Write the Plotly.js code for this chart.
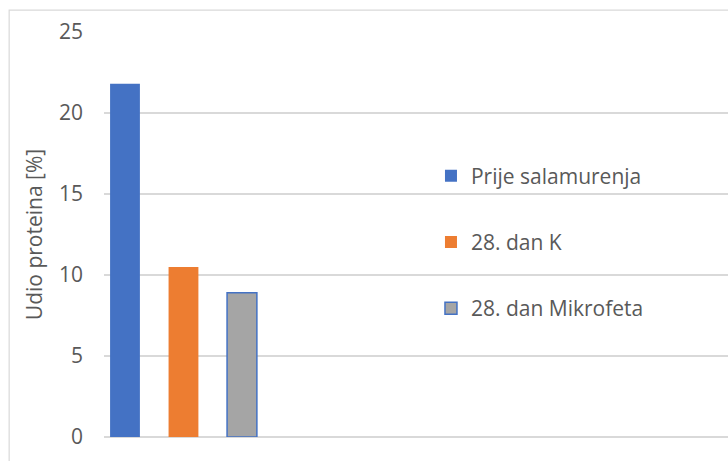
<!DOCTYPE html>
<html>
<head>
<meta charset="utf-8">
<script src="https://cdn.plot.ly/plotly-3.0.1.min.js"></script>
<style>
html,body{margin:0;padding:0;background:#fff;}
#chart{width:728px;height:461px;}
</style>
</head>
<body>
<div id="chart"></div>
<script>
const seriesNames = ["Prije salamurenja", "28. dan K", "28. dan Mikrofeta"];
const seriesValues = [21.8, 10.5, 8.9];
const seriesColors = ["#4472C4", "#ED7D31", "#A5A5A5"];
const seriesLineColors = ["#4472C4", "#ED7D31", "#4472C4"];
const seriesLineWidths = [0, 0, 1.5];
const yTicks = [0, 5, 10, 15, 20, 25];
const yTitle = "Udio proteina [%]";

const traces = seriesNames.map((name, i) => ({
  type: "bar",
  name: name,
  x: [i],
  y: [seriesValues[i]],
  width: 0.51,
  legendgroup: "g" + i,
  marker: {color: seriesColors[i], line: {color: seriesLineColors[i], width: seriesLineWidths[i]}},
  hoverinfo: "skip"
}));

const font = {family: "'Open Sans', sans-serif", size: 21, color: "#595959"};

const layout = {
  width: 728, height: 461,
  margin: {l: 104, r: 0, t: 32, b: 24, pad: 0},
  paper_bgcolor: "#fff", plot_bgcolor: "#fff",
  font: font,
  showlegend: true,
  barmode: "overlay",
  xaxis: {range: [-0.359, 10.31], showticklabels: false, showgrid: false, zeroline: false, ticks: "", fixedrange: true},
  yaxis: {
    range: [0, 25], tickvals: yTicks, ticktext: yTicks.map(String),
    showgrid: true, gridcolor: "#D9D9D9", gridwidth: 1.5,
    zeroline: true, zerolinecolor: "#D9D9D9", zerolinewidth: 1.5,
    showline: false, ticks: "", ticklabelstandoff: 20,
    tickfont: font,
    title: {text: yTitle, font: font, standoff: 10},
    automargin: false
  },
  legend: {
    x: 0.524, xanchor: "left", y: 0.695, yanchor: "top",
    traceorder: "grouped", tracegroupgap: 36,
    font: font, bgcolor: "rgba(0,0,0,0)"
  },
  shapes: [{
    type: "path", xref: "paper", yref: "paper",
    path: "M -0.152 -0.2 L -0.152 1.054 L 1.2 1.054",
    line: {color: "#D9D9D9", width: 1.2}
  }]
};

Plotly.newPlot("chart", traces, layout, {displayModeBar: false, staticPlot: true});
</script>
</body>
</html>
